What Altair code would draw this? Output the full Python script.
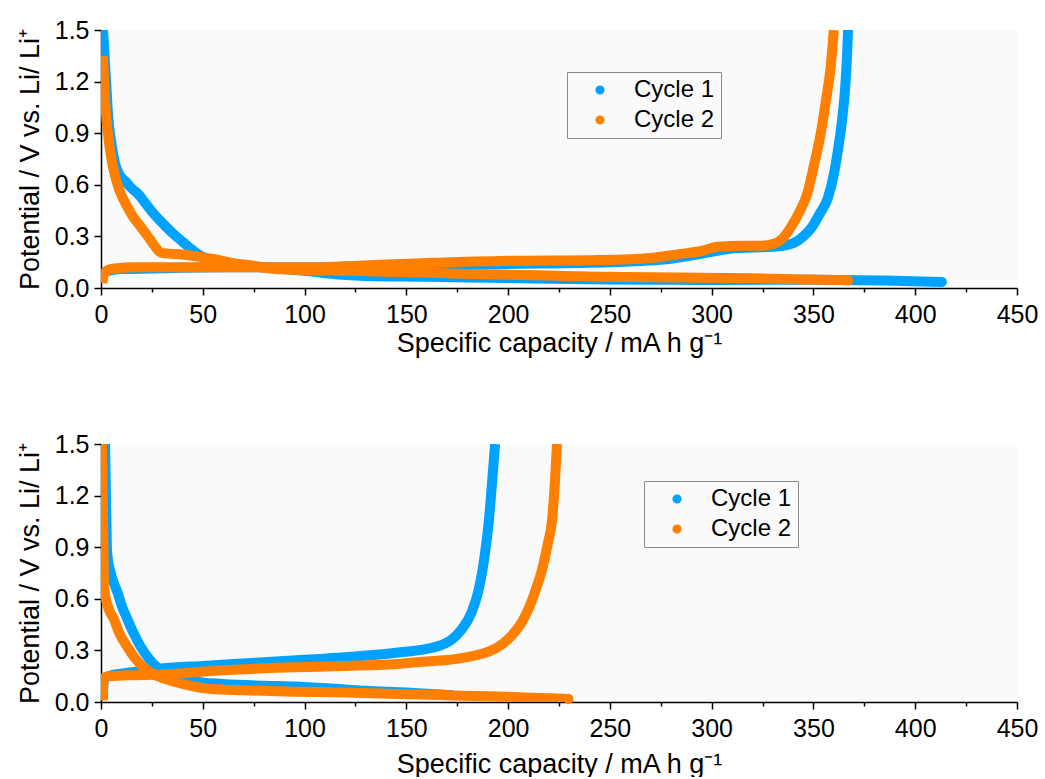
import altair as alt
import pandas as pd

BLUE = "#00a2ff"
ORANGE = "#ff7f00"
FONT = "Liberation Sans"

CYCLES = ["Cycle 1", "Cycle 2"]
X_TICKS = [0, 25, 50, 75, 100, 125, 150, 175, 200, 225, 250, 275, 300, 325, 350, 375, 400, 425, 450]
Y_TICKS = [0.0, 0.15, 0.3, 0.45, 0.6, 0.75, 0.9, 1.05, 1.2, 1.35, 1.5]
X_TITLE = "Specific capacity / mA h g\u207b\u00b9"
Y_TITLE = "Potential / V vs. Li/ Li\u207a"

# ---------------- top panel ----------------
top_c1_dis_x = [1.0, 1.5, 2.5, 3.5, 5, 7, 9, 12, 15, 18, 22, 26, 30, 35, 40, 45, 50, 55, 60, 70, 85, 100, 115, 130, 160, 200, 250, 300, 350, 390, 413]
top_c1_dis_y = [1.50, 1.40, 1.20, 1.00, 0.85, 0.72, 0.66, 0.62, 0.58, 0.55, 0.49, 0.43, 0.38, 0.32, 0.27, 0.22, 0.18, 0.155, 0.14, 0.13, 0.115, 0.10, 0.08, 0.07, 0.065, 0.058, 0.05, 0.047, 0.048, 0.042, 0.035]
top_c1_chg_x = [0.5, 1, 2, 4, 10, 30, 60, 100, 150, 200, 250, 280, 300, 310, 320, 330, 335, 340, 345, 349, 353, 357, 360, 362, 364, 365.5, 366.5, 367]
top_c1_chg_y = [0.04, 0.07, 0.09, 0.10, 0.11, 0.115, 0.12, 0.12, 0.13, 0.14, 0.15, 0.17, 0.21, 0.23, 0.235, 0.24, 0.245, 0.26, 0.30, 0.35, 0.43, 0.52, 0.66, 0.80, 0.97, 1.15, 1.35, 1.50]
top_c2_dis_x = [1, 1.5, 2.2, 3.4, 5, 6.5, 9, 13, 16, 19.6, 23, 26, 29.5, 33, 40, 49, 57, 65, 75, 82, 98, 123, 140, 163, 180, 196, 220, 245, 270, 295, 320, 345, 367]
top_c2_dis_y = [1.35, 1.20, 1.05, 0.90, 0.76, 0.67, 0.57, 0.47, 0.41, 0.355, 0.30, 0.25, 0.205, 0.20, 0.195, 0.18, 0.165, 0.145, 0.13, 0.115, 0.105, 0.10, 0.095, 0.088, 0.082, 0.078, 0.072, 0.066, 0.062, 0.06, 0.056, 0.05, 0.045]
top_c2_chg_x = [0.5, 1, 2, 3.4, 8, 16, 50, 98, 147, 196, 245, 270, 286, 295, 303, 315, 324, 330, 335, 339, 343, 347, 350, 353.6, 356, 358.5, 360]
top_c2_chg_y = [0.03, 0.06, 0.09, 0.105, 0.115, 0.12, 0.12, 0.12, 0.14, 0.157, 0.163, 0.175, 0.20, 0.215, 0.24, 0.245, 0.245, 0.255, 0.29, 0.355, 0.44, 0.55, 0.70, 0.90, 1.08, 1.29, 1.50]

# ---------------- bottom panel ----------------
bot_c1_dis_x = [2, 2.3, 2.6, 3, 5, 8, 10.5, 13, 16, 19.6, 23, 27.6, 35, 46, 60, 80, 95, 111, 130, 150, 165, 172]
bot_c1_dis_y = [1.5, 1.3, 1.1, 0.87, 0.74, 0.64, 0.55, 0.48, 0.40, 0.32, 0.26, 0.20, 0.155, 0.12, 0.105, 0.095, 0.09, 0.08, 0.065, 0.055, 0.045, 0.04]
bot_c1_chg_x = [1.0, 1.2, 1.8, 5, 10, 20, 29.5, 50, 78.8, 100, 119.7, 144, 160.6, 167, 172, 177, 182, 185.5, 188.7, 190.5, 192, 193.6]
bot_c1_chg_y = [0.02, 0.10, 0.14, 0.155, 0.165, 0.18, 0.195, 0.21, 0.23, 0.245, 0.26, 0.285, 0.31, 0.33, 0.36, 0.42, 0.52, 0.65, 0.87, 1.05, 1.26, 1.5]
bot_c2_dis_x = [0.5, 0.8, 1.2, 1.5, 3, 6.4, 9, 13, 17, 21, 26, 32.5, 42, 54, 70, 95, 120, 150, 177, 200, 215, 229.6]
bot_c2_dis_y = [1.5, 1.2, 0.9, 0.67, 0.57, 0.48, 0.40, 0.32, 0.25, 0.20, 0.16, 0.13, 0.10, 0.075, 0.068, 0.06, 0.055, 0.045, 0.037, 0.03, 0.024, 0.018]
bot_c2_chg_x = [0.8, 1, 1.5, 4, 13, 29.5, 60, 90, 119.7, 144, 160, 177, 193.6, 202, 207, 210, 213.5, 216.7, 219.5, 221.6, 223, 224]
bot_c2_chg_y = [0.01, 0.08, 0.14, 0.15, 0.155, 0.16, 0.185, 0.2, 0.21, 0.22, 0.235, 0.255, 0.31, 0.39, 0.47, 0.54, 0.65, 0.77, 0.92, 1.06, 1.28, 1.5]


def make_df(c1_dis, c1_chg, c2_dis, c2_chg):
    rows = []
    for cyc, branches in (("Cycle 1", (c1_dis, c1_chg)), ("Cycle 2", (c2_dis, c2_chg))):
        for name, (xs, ys) in zip(("dis", "chg"), branches):
            for i, (xv, yv) in enumerate(zip(xs, ys)):
                rows.append({"x": xv, "y": yv, "cycle": cyc, "branch": name, "i": i})
    return pd.DataFrame(rows)


def end_df(c1_dis, c2_dis):
    return pd.DataFrame([
        {"x": c1_dis[0][-1], "y": c1_dis[1][-1], "cycle": "Cycle 1"},
        {"x": c2_dis[0][-1], "y": c2_dis[1][-1], "cycle": "Cycle 2"},
    ])


X_LABEL_EXPR = "datum.value % 50 === 0 ? datum.label : ''"
Y_LABEL_EXPR = "round(datum.value * 100) % 30 === 0 ? format(datum.value, '.1f') : ''"


def panel(df, ends, legend_x, legend_y, x_title_pad):
    xs = alt.Scale(domain=[0, 450], nice=False, zero=False)
    ys = alt.Scale(domain=[0, 1.5], nice=False)
    xaxis = alt.Axis(
        values=X_TICKS, labelExpr=X_LABEL_EXPR, labelFlush=False, labelPadding=7,
        tickSize={"condition": {"test": "datum.value % 50 === 0", "value": 7}, "value": 4},
        titlePadding=x_title_pad, grid=False,
    )
    yaxis = alt.Axis(
        values=Y_TICKS, labelExpr=Y_LABEL_EXPR, labelFlush=False, labelPadding=5,
        tickSize={"condition": {"test": "round(datum.value * 100) % 30 === 0", "value": 7}, "value": 4},
        titlePadding=10, grid=False,
    )
    stroke_scale = alt.Scale(domain=CYCLES, range=[BLUE, ORANGE])
    fill_scale = alt.Scale(domain=CYCLES, range=[BLUE, ORANGE])
    legend = alt.Legend(
        title=None, orient="none", legendX=legend_x, legendY=legend_y,
        symbolType="circle", symbolSize=22, symbolStrokeWidth=4.5,
        labelFontSize=24, labelFont=FONT, labelColor="black",
        strokeColor="#8c8c8c", padding=6, symbolOffset=15, labelOffset=22,
        rowPadding=6,
    )
    layers = []
    for cyc in CYCLES:
        layers.append(
            alt.Chart(df).transform_filter(alt.datum.cycle == cyc)
            .mark_line(strokeWidth=10, strokeCap="butt", strokeJoin="round",
                       interpolate="monotone", clip=True)
            .encode(
                x=alt.X("x:Q", scale=xs, axis=xaxis, title=X_TITLE),
                y=alt.Y("y:Q", scale=ys, axis=yaxis, title=Y_TITLE),
                stroke=alt.Stroke("cycle:N", scale=stroke_scale, legend=legend),
                detail="branch:N",
                order="i:Q",
            )
        )
        layers.append(
            alt.Chart(ends).transform_filter(alt.datum.cycle == cyc)
            .mark_circle(size=105, opacity=1)
            .encode(
                x="x:Q", y="y:Q",
                fill=alt.Fill("cycle:N", scale=fill_scale, legend=None),
            )
        )
    return alt.layer(*layers).properties(width=916, height=258)


top_df = make_df((top_c1_dis_x, top_c1_dis_y), (top_c1_chg_x, top_c1_chg_y),
                 (top_c2_dis_x, top_c2_dis_y), (top_c2_chg_x, top_c2_chg_y))
bot_df = make_df((bot_c1_dis_x, bot_c1_dis_y), (bot_c1_chg_x, bot_c1_chg_y),
                 (bot_c2_dis_x, bot_c2_dis_y), (bot_c2_chg_x, bot_c2_chg_y))

top = panel(top_df, end_df((top_c1_dis_x, top_c1_dis_y), (top_c2_dis_x, top_c2_dis_y)), 466, 42, 3)
bottom = panel(bot_df, end_df((bot_c1_dis_x, bot_c1_dis_y), (bot_c2_dis_x, bot_c2_dis_y)), 543, 37, 10)

chart = (
    alt.vconcat(top, bottom, spacing=76)
    .resolve_scale(stroke="independent", fill="independent")
    .resolve_legend(stroke="independent")
    .properties(padding={"left": 16, "top": 18, "right": 5, "bottom": 0}, background="white")
    .configure_view(stroke=None, fill="#fafafa")
    .configure_axis(
        labelFont=FONT, titleFont=FONT, labelFontSize=25, titleFontSize=27,
        labelColor="black", titleColor="black", titleFontWeight="normal",
        domainColor="black", tickColor="black", domainWidth=1.5, tickWidth=1.5,
    )
)

chart.save("out.html", embed_options={"renderer": "svg", "actions": False})
